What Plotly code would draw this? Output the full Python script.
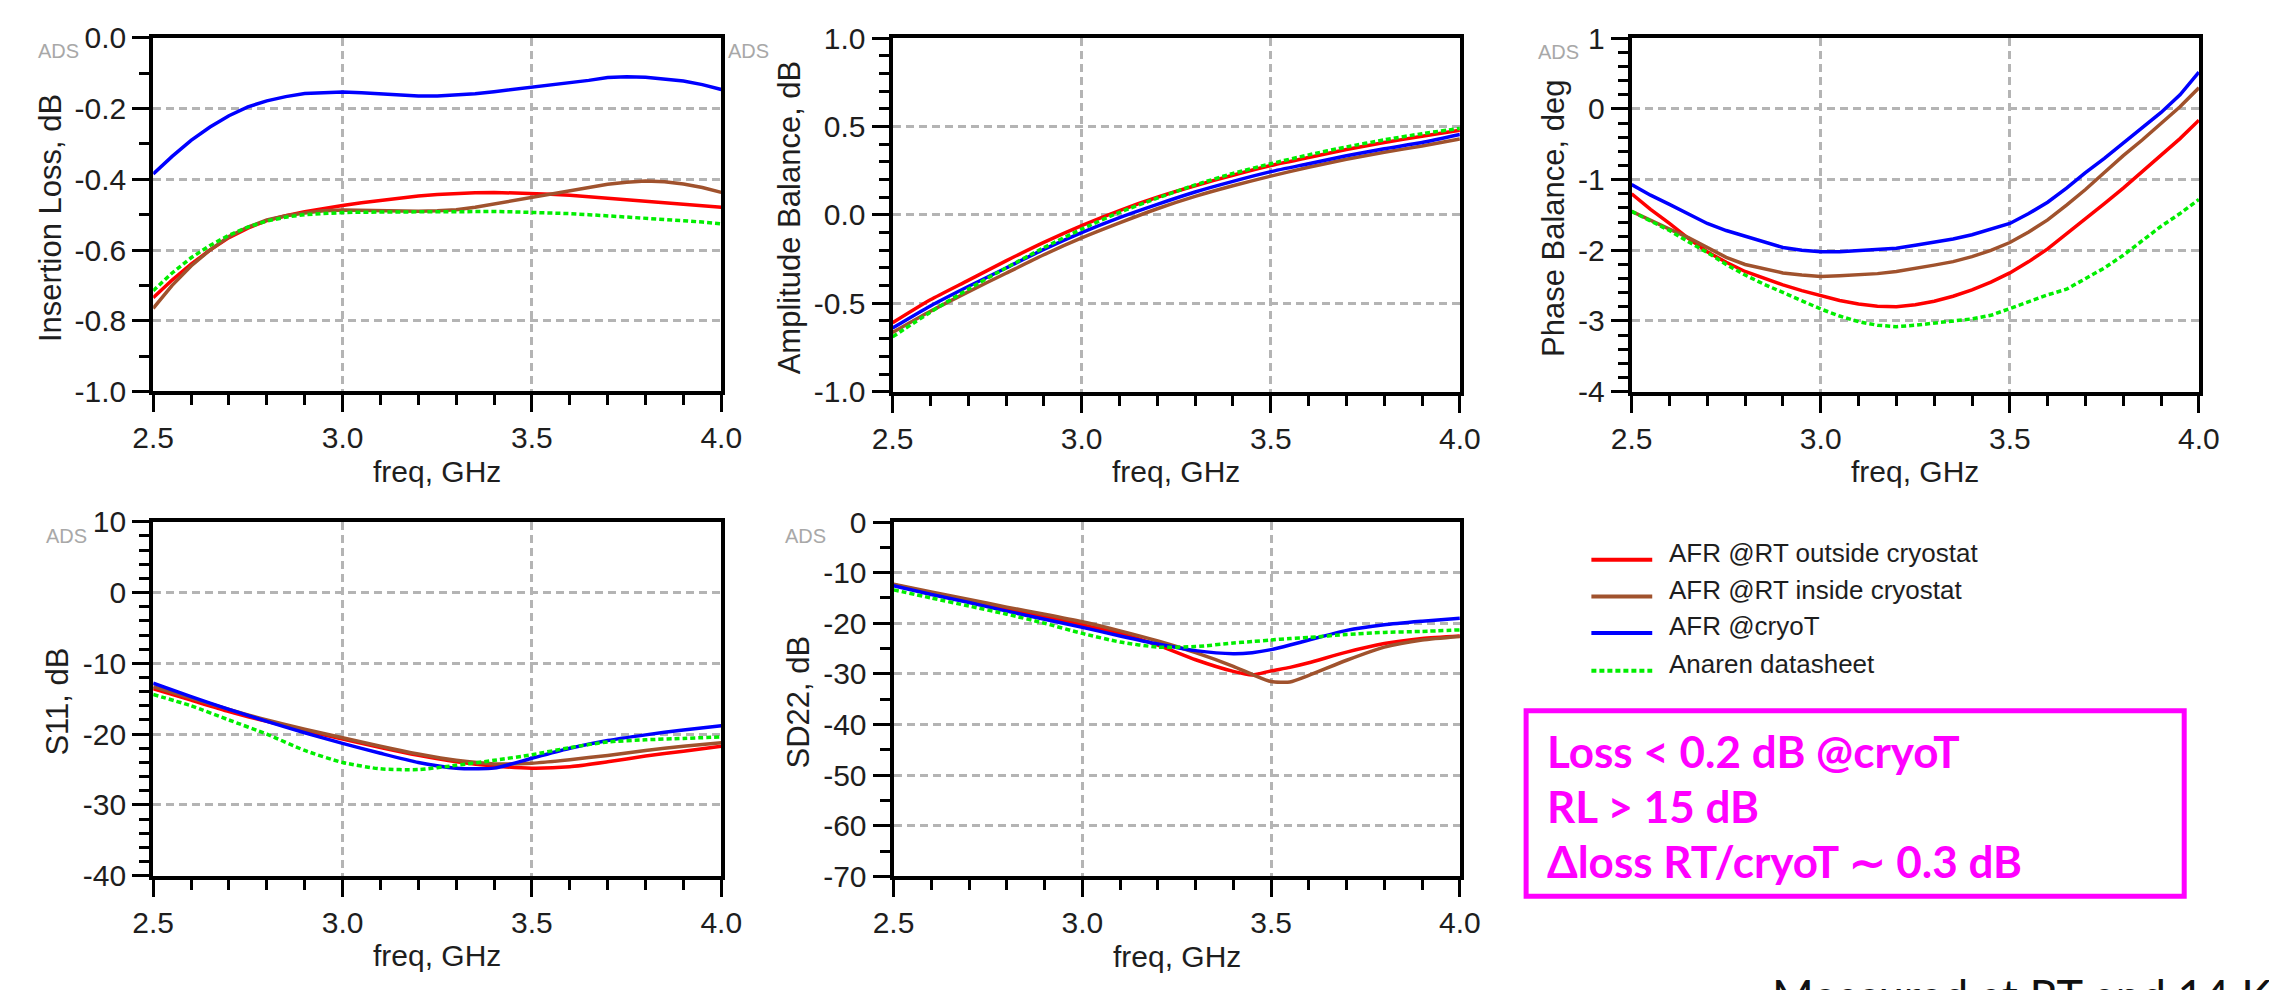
import plotly.graph_objects as go

# ---------------------------------------------------------------- data
FREQ_FINE = [2.50, 2.55, 2.60, 2.65, 2.70, 2.75, 2.80, 2.85, 2.90, 2.95,
             3.00, 3.05, 3.10, 3.15, 3.20, 3.25, 3.30, 3.35, 3.40, 3.45,
             3.50, 3.55, 3.60, 3.65, 3.70, 3.75, 3.80, 3.85, 3.90, 3.95, 4.00]
FREQ_COARSE = [2.5, 2.6, 2.7, 2.8, 2.9, 3.0, 3.1, 3.2, 3.3, 3.4,
               3.5, 3.6, 3.7, 3.8, 3.9, 4.0]
FREQ_SD22 = [2.5, 2.6, 2.7, 2.8, 2.9, 3.0, 3.1, 3.2, 3.3, 3.4,
             3.45, 3.5, 3.55, 3.6, 3.7, 3.8, 3.9, 4.0]

SERIES = ["AFR @RT outside cryostat", "AFR @RT inside cryostat",
          "AFR @cryoT", "Anaren datasheet"]
COLORS = ["#ff0000", "#a0522d", "#0000ff", "#00ee00"]
DASHES = ["solid", "solid", "solid", "5px,3px"]

# Insertion loss, dB
IL_RT_OUT = [-0.735, -0.685, -0.640, -0.600, -0.565, -0.538, -0.517, -0.503, -0.492, -0.482,
             -0.474, -0.466, -0.459, -0.452, -0.447, -0.443, -0.440, -0.438, -0.437, -0.438,
             -0.440, -0.442, -0.445, -0.449, -0.453, -0.457, -0.461, -0.465, -0.469, -0.474, -0.479]
IL_RT_IN = [-0.765, -0.700, -0.645, -0.600, -0.562, -0.535, -0.515, -0.503, -0.495, -0.489,
            -0.487, -0.488, -0.489, -0.490, -0.490, -0.489, -0.486, -0.479, -0.470, -0.461,
            -0.452, -0.443, -0.433, -0.423, -0.414, -0.408, -0.405, -0.407, -0.413, -0.423, -0.437]
IL_CRYO = [-0.385, -0.335, -0.290, -0.252, -0.220, -0.195, -0.178, -0.166, -0.157, -0.154,
           -0.153, -0.155, -0.158, -0.162, -0.164, -0.164, -0.162, -0.158, -0.152, -0.146,
           -0.140, -0.134, -0.127, -0.120, -0.112, -0.110, -0.111, -0.116, -0.122, -0.132, -0.146]
IL_SHEET = [-0.715, -0.665, -0.622, -0.587, -0.558, -0.535, -0.518, -0.507, -0.500, -0.496,
            -0.494, -0.493, -0.492, -0.492, -0.492, -0.492, -0.491, -0.491, -0.491, -0.492,
            -0.493, -0.494, -0.497, -0.500, -0.503, -0.506, -0.509, -0.513, -0.517, -0.521, -0.526]

# Amplitude balance, dB
AB_RT_OUT = [-0.61, -0.48, -0.37, -0.26, -0.155, -0.06, 0.025, 0.10, 0.165, 0.225,
             0.28, 0.325, 0.37, 0.41, 0.445, 0.48]
AB_RT_IN = [-0.665, -0.545, -0.435, -0.33, -0.225, -0.13, -0.045, 0.035, 0.105, 0.165,
            0.22, 0.27, 0.315, 0.355, 0.39, 0.43]
AB_CRYO = [-0.64, -0.515, -0.405, -0.30, -0.195, -0.10, -0.015, 0.06, 0.13, 0.19,
           0.245, 0.29, 0.335, 0.375, 0.41, 0.455]
AB_SHEET = [-0.69, -0.55, -0.42, -0.30, -0.185, -0.08, 0.015, 0.095, 0.17, 0.235,
            0.29, 0.34, 0.385, 0.425, 0.46, 0.49]

# Phase balance, deg
PB_RT_OUT = [-1.20, -1.42, -1.62, -1.83, -2.02, -2.17, -2.30, -2.40, -2.49, -2.57,
             -2.64, -2.71, -2.76, -2.79, -2.80, -2.77, -2.72, -2.65, -2.56, -2.45,
             -2.32, -2.16, -1.98, -1.77, -1.55, -1.34, -1.12, -0.89, -0.66, -0.42, -0.16]
PB_RT_IN = [-1.45, -1.58, -1.70, -1.82, -1.96, -2.10, -2.20, -2.26, -2.32, -2.35,
            -2.37, -2.36, -2.35, -2.33, -2.30, -2.26, -2.21, -2.16, -2.09, -2.00,
            -1.89, -1.74, -1.57, -1.36, -1.14, -0.90, -0.66, -0.44, -0.21, 0.03, 0.30]
PB_CRYO = [-1.07, -1.22, -1.35, -1.48, -1.62, -1.72, -1.80, -1.88, -1.96, -2.00,
           -2.02, -2.02, -2.00, -1.99, -1.97, -1.93, -1.89, -1.84, -1.78, -1.70,
           -1.62, -1.48, -1.32, -1.12, -0.90, -0.70, -0.48, -0.27, -0.05, 0.20, 0.52]
PB_SHEET = [-1.45, -1.58, -1.72, -1.88, -2.03, -2.20, -2.35, -2.48, -2.60, -2.72,
            -2.83, -2.93, -3.01, -3.06, -3.08, -3.06, -3.03, -3.00, -2.97, -2.92,
            -2.82, -2.72, -2.63, -2.55, -2.40, -2.25, -2.07, -1.87, -1.66, -1.48, -1.28]

# S11, dB
S11_RT_OUT = [-13.6, -15.2, -16.8, -18.2, -19.5, -20.7, -21.9, -23.0, -23.9, -24.5,
              -24.8, -24.6, -23.9, -23.1, -22.4, -21.7]
S11_RT_IN = [-13.3, -14.9, -16.5, -18.0, -19.3, -20.5, -21.7, -22.8, -23.7, -24.2,
             -24.1, -23.6, -23.0, -22.3, -21.7, -21.2]
S11_CRYO = [-12.8, -14.7, -16.5, -18.2, -19.8, -21.3, -22.7, -24.0, -24.8, -24.8,
            -23.4, -22.0, -20.9, -20.1, -19.4, -18.8]
S11_SHEET = [-14.4, -16.0, -18.0, -20.0, -22.3, -24.0, -24.9, -25.0, -24.4, -23.7,
             -22.9, -21.9, -21.1, -20.8, -20.6, -20.4]

# SD22, dB
SD22_RT_OUT = [-12.4, -14.0, -15.6, -17.2, -18.7, -20.3, -22.0, -24.3, -27.2, -29.5,
               -30.2, -29.4, -28.7, -27.8, -25.7, -24.0, -23.0, -22.5]
SD22_RT_IN = [-12.3, -13.8, -15.3, -16.8, -18.2, -19.7, -21.5, -23.5, -25.8, -28.5,
              -30.1, -31.5, -31.6, -30.3, -27.3, -24.7, -23.3, -22.6]
SD22_CRYO = [-12.6, -14.3, -15.9, -17.6, -19.2, -20.8, -22.5, -24.1, -25.4, -26.0,
             -25.8, -25.2, -24.3, -23.3, -21.4, -20.3, -19.6, -19.0]
SD22_SHEET = [-13.4, -15.0, -16.6, -18.2, -20.0, -22.0, -23.7, -24.7, -24.6, -23.9,
              -23.6, -23.3, -23.0, -22.8, -22.2, -21.8, -21.6, -21.3]

# axis ticks
FREQ_TICKS = [2.5, 3.0, 3.5, 4.0]
FREQ_TICK_TEXT = ["2.5", "3.0", "3.5", "4.0"]
IL_TICKS = [0.0, -0.2, -0.4, -0.6, -0.8, -1.0]
IL_TICK_TEXT = ["0.0", "-0.2", "-0.4", "-0.6", "-0.8", "-1.0"]
AB_TICKS = [1.0, 0.5, 0.0, -0.5, -1.0]
AB_TICK_TEXT = ["1.0", "0.5", "0.0", "-0.5", "-1.0"]
PB_TICKS = [1, 0, -1, -2, -3, -4]
PB_TICK_TEXT = ["1", "0", "-1", "-2", "-3", "-4"]
S11_TICKS = [10, 0, -10, -20, -30, -40]
S11_TICK_TEXT = ["10", "0", "-10", "-20", "-30", "-40"]
SD22_TICKS = [0, -10, -20, -30, -40, -50, -60, -70]
SD22_TICK_TEXT = ["0", "-10", "-20", "-30", "-40", "-50", "-60", "-70"]

SUMMARY_LINES = ["Loss < 0.2 dB @cryoT", "RL > 15 dB", "\u0394loss RT/cryoT \u223c 0.3 dB"]
FOOTNOTE = "Measured at RT and 14 K"

# ---------------------------------------------------------------- layout
W, H = 2269, 990
FONT = "Liberation Sans, Arial, sans-serif"
TXT = "#1e1e1e"


def px_x(x):
    return x / W


def px_y(y):
    return 1 - y / H


panels = [
    dict(freq=FREQ_FINE, ys=[IL_RT_OUT, IL_RT_IN, IL_CRYO, IL_SHEET],
         yr=[-1.0, 0.0], tv=IL_TICKS, tt=IL_TICK_TEXT, minor=0.1,
         title="Insertion Loss, dB", box=(134.7, 21.7, 713.5, 387.7),
         tx=30, ads=[(38, 35), (741, 35)], shape="linear"),
    dict(freq=FREQ_COARSE, ys=[AB_RT_OUT, AB_RT_IN, AB_CRYO, AB_SHEET],
         yr=[-1.0, 1.0], tv=AB_TICKS, tt=AB_TICK_TEXT, minor=0.1,
         title="Amplitude Balance, dB", box=(888, 22, 1466, 388),
         tx=783, ads=[], shape="spline"),
    dict(freq=FREQ_FINE, ys=[PB_RT_OUT, PB_RT_IN, PB_CRYO, PB_SHEET],
         yr=[-4, 1], tv=PB_TICKS, tt=PB_TICK_TEXT, minor=0.2,
         title="Phase Balance, deg", box=(1641, 22, 2219, 388),
         tx=1562, ads=[(1567, 36)], shape="linear"),
    dict(freq=FREQ_COARSE, ys=[S11_RT_OUT, S11_RT_IN, S11_CRYO, S11_SHEET],
         yr=[-40, 10], tv=S11_TICKS, tt=S11_TICK_TEXT, minor=2,
         title="S11, dB", box=(134.7, 522.7, 713.5, 889.3),
         tx=37.6, ads=[(46, 537)], shape="spline"),
    dict(freq=FREQ_SD22, ys=[SD22_RT_OUT, SD22_RT_IN, SD22_CRYO, SD22_SHEET],
         yr=[-70, 0], tv=SD22_TICKS, tt=SD22_TICK_TEXT, minor=5,
         title="SD22, dB", box=(889, 523, 1466, 890),
         tx=792, ads=[(799, 537)], shape="spline"),
]

fig = go.Figure()
annotations = []
shapes = []

for i, p in enumerate(panels, start=1):
    sfx = "" if i == 1 else str(i)
    x0, y0, x1, y1 = p["box"]
    for name, col, dash, yv in zip(SERIES, COLORS, DASHES, p["ys"]):
        line = dict(color=col, width=3.5, dash=dash, shape=p["shape"])
        if p["shape"] == "spline":
            line["smoothing"] = 0.6
        fig.add_trace(go.Scatter(x=p["freq"], y=yv, mode="lines", name=name,
                                 line=line, showlegend=False,
                                 xaxis="x" + sfx, yaxis="y" + sfx))
    common = dict(showline=True, linecolor="black", linewidth=4, mirror=True,
                  ticks="outside", ticklen=17, tickwidth=3, tickcolor="black",
                  showgrid=True, gridcolor="#b4b4b4", gridwidth=2.5,
                  griddash="8px,5px", zeroline=False,
                  tickfont=dict(family=FONT, size=30, color=TXT))
    fig.layout["xaxis" + sfx] = dict(
        common, domain=[px_x(x0), px_x(x1)], anchor="y" + sfx,
        range=[2.5, 4.0], tickmode="array", tickvals=FREQ_TICKS,
        ticktext=FREQ_TICK_TEXT,
        minor=dict(tickmode="linear", tick0=2.5, dtick=0.1, ticks="outside",
                   ticklen=10, tickwidth=3, tickcolor="black", showgrid=False))
    fig.layout["yaxis" + sfx] = dict(
        common, domain=[px_y(y1), px_y(y0)], anchor="x" + sfx,
        range=p["yr"], tickmode="array", tickvals=p["tv"], ticktext=p["tt"],
        minor=dict(tickmode="linear", tick0=p["yr"][0], dtick=p["minor"],
                   ticks="outside", ticklen=10, tickwidth=3, tickcolor="black",
                   showgrid=False))
    # axis titles
    annotations.append(dict(text="freq, GHz", xref="paper", yref="paper",
                            x=px_x((x0 + x1) / 2), y=px_y(y1 + 83),
                            xanchor="center", yanchor="middle", showarrow=False,
                            font=dict(family=FONT, size=30, color=TXT)))
    annotations.append(dict(text=p["title"], xref="paper", yref="paper",
                            x=px_x(p["tx"]), y=px_y((y0 + y1) / 2 + 3), textangle=-90,
                            xanchor="center", yanchor="middle", showarrow=False,
                            font=dict(family=FONT, size=31, color=TXT)))
    for ax_, ay_ in p["ads"]:
        annotations.append(dict(text="ADS", xref="paper", yref="paper",
                                x=px_x(ax_), y=px_y(ay_), xanchor="center",
                                yanchor="middle", showarrow=False,
                                font=dict(family="Liberation Sans Narrow, " + FONT,
                                          size=20, color="#a8a8a8")))

# legend block
LEG_Y = [562, 600, 638, 677]
for name, col, dash, ly in zip(SERIES, COLORS, DASHES, LEG_Y):
    shapes.append(dict(type="line", xref="paper", yref="paper",
                       x0=px_x(1600), x1=px_x(1662), y0=px_y(ly), y1=px_y(ly),
                       line=dict(color=col, width=4, dash=dash)))
    annotations.append(dict(text=name, xref="paper", yref="paper",
                            x=px_x(1677), y=px_y(ly - 7), xanchor="left",
                            yanchor="middle", showarrow=False,
                            font=dict(family=FONT, size=26, color=TXT)))

# summary box
shapes.append(dict(type="rect", xref="paper", yref="paper",
                   x0=px_x(1533.5), x1=px_x(2204), y0=px_y(910.5), y1=px_y(718.5),
                   line=dict(color="#ff00ff", width=5), fillcolor="rgba(0,0,0,0)"))
for txt, cy in zip(SUMMARY_LINES, [760, 817, 874]):
    annotations.append(dict(text="<b>" + txt + "</b>", xref="paper", yref="paper",
                            x=px_x(1553), y=px_y(cy), xanchor="left",
                            yanchor="middle", showarrow=False,
                            font=dict(family="Lato, Open Sans, sans-serif",
                                      size=44, color="#ff00ff")))

annotations.append(dict(text=FOOTNOTE, xref="paper", yref="paper",
                        x=px_x(1782), y=px_y(983), xanchor="left", yanchor="top",
                        showarrow=False,
                        font=dict(family="Lato, Open Sans, sans-serif", size=45,
                                  color="#111111")))

fig.update_layout(width=W, height=H, margin=dict(l=0, r=0, t=0, b=0),
                  paper_bgcolor="white", plot_bgcolor="white",
                  showlegend=False, annotations=annotations, shapes=shapes)

fig.write_html("out.html")
